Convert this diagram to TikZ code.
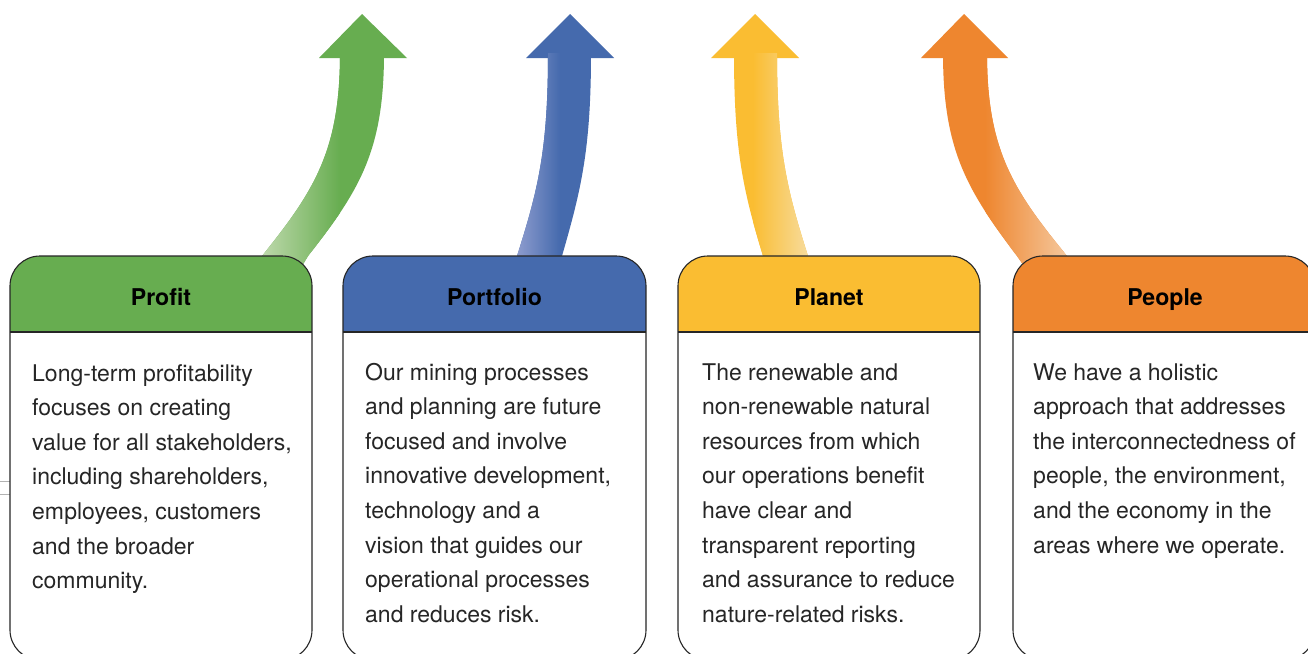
\documentclass[tikz,border=0pt]{standalone}
\usepackage{fontspec}
\setmainfont{TeX Gyre Heros}
\definecolor{cgreen}{HTML}{67AD50}
\definecolor{cgreenL}{HTML}{C2DBB0}
\definecolor{cblue}{HTML}{456AAD}
\definecolor{cblueL}{HTML}{929FD0}
\definecolor{cyellow}{HTML}{FABD32}
\definecolor{cyellowL}{HTML}{F7DDA2}
\definecolor{corange}{HTML}{EE862F}
\definecolor{corangeL}{HTML}{F5CBA3}
\tikzset{
  boxline/.style={line width=1.1pt, draw=black!85},
  titletext/.style={anchor=base, inner sep=0pt, text=black, font=\bfseries\fontsize{23.1}{27}\selectfont},
  bodytext/.style={anchor=base west, inner sep=0pt, text=black!85, font=\fontsize{23.0}{34.6}\selectfont},
}
\newcommand\infobox[3]{%
  \begin{scope}
    \clip[rounded corners=30pt] (#1,256) rectangle (#2,660);
    \fill[white] (#1,256) rectangle (#2,660);
    \fill[#3] (#1,256) rectangle (#2,332);
  \end{scope}
  \draw[boxline] (#1,332) -- (#2,332);
  \draw[boxline, rounded corners=30pt] (#1,256) rectangle (#2,660);
}
\begin{document}
\begin{tikzpicture}[x=1pt, y=-1pt]
\useasboundingbox (0,0) rectangle (1308,653);
\clip (0,0) rectangle (1308,653);
\fill[white] (0,0) rectangle (1308,653);
% stray small rectangle
\draw[black!30, line width=1.3pt] (-2,481.5) rectangle (23,494.5);

% green arrow
\fill[cgreen] (319,58) -- (362,14) -- (407,58) -- cycle;
\begin{scope}
  \clip (262,256) .. controls (315,190) and (340,150) .. (340,53) -- (384,53)
        .. controls (384,150) and (360,190) .. (308,256) -- (302,266) -- (255,266) -- cycle;
  \fill[cgreen] (240,40) rectangle (400,270);
  \shade[left color=cgreenL, right color=cgreen] (258,40) rectangle (340,270);
\end{scope}

% blue arrow
\fill[cblue] (526,58) -- (570,14) -- (614,58) -- cycle;
\begin{scope}
  \clip (517,256) .. controls (538,190) and (548,150) .. (548,53) -- (591,53)
        .. controls (591,150) and (581,190) .. (562,256) -- (560,266) -- (514,266) -- cycle;
  \fill[cblue] (500,40) rectangle (610,270);
  \shade[left color=cblueL, right color=cblue] (514,40) rectangle (560,270);
\end{scope}

% yellow arrow
\fill[cyellow] (711,58) -- (755,14) -- (799,58) -- cycle;
\begin{scope}
  \clip (763,256) .. controls (743,190) and (734,150) .. (734,53) -- (777,53)
        .. controls (777,150) and (787,190) .. (808,256) -- (811,266) -- (765,266) -- cycle;
  \fill[cyellow] (720,40) rectangle (820,270);
  \shade[left color=cyellow, right color=cyellowL] (753,40) rectangle (811,270);
\end{scope}

% orange arrow
\fill[corange] (921,58) -- (964,14) -- (1008,58) -- cycle;
\begin{scope}
  \clip (1017,256) .. controls (967,190) and (943,150) .. (943,53) -- (987,53)
        .. controls (987,150) and (1013,190) .. (1067,256) -- (1074,266) -- (1024,266) -- cycle;
  \fill[corange] (930,40) rectangle (1080,270);
  \shade[left color=corange, right color=corangeL] (985,40) rectangle (1072,270);
\end{scope}

% boxes
\infobox{10}{312}{cgreen}
\infobox{343}{646}{cblue}
\infobox{678}{980}{cyellow}
\infobox{1013}{1315}{corange}

% titles
\node[titletext] (h1) at (161,305.7) {Profit};
\node[titletext] (h2) at (494.5,305.7) {Portfolio};
\node[titletext] (h3) at (829,305.7) {Planet};
\node[titletext] (h4) at (1165,305.7) {People};

% body texts
\node[bodytext] (b1) at (32,381) {\parbox[t]{290pt}{\raggedright
Long-term profitability\\
focuses on creating\\
value for all stakeholders,\\
including shareholders,\\
employees, customers\\
and the broader\\
community.}};
\node[bodytext] (b2) at (365,380) {\parbox[t]{290pt}{\raggedright
Our mining processes\\
and planning are future\\
focused and involve\\
innovative development,\\
technology and a\\
vision that guides our\\
operational processes\\
and reduces risk.}};
\node[bodytext] (b3) at (702,380) {\parbox[t]{290pt}{\raggedright
The renewable and\\
non-renewable natural\\
resources from which\\
our operations benefit\\
have clear and\\
transparent reporting\\
and assurance to reduce\\
nature-related risks.}};
\node[bodytext] (b4) at (1033,380) {\parbox[t]{290pt}{\raggedright
We have a holistic\\
approach that addresses\\
the interconnectedness of\\
people, the environment,\\
and the economy in the\\
areas where we operate.}};
\end{tikzpicture}
\end{document}
